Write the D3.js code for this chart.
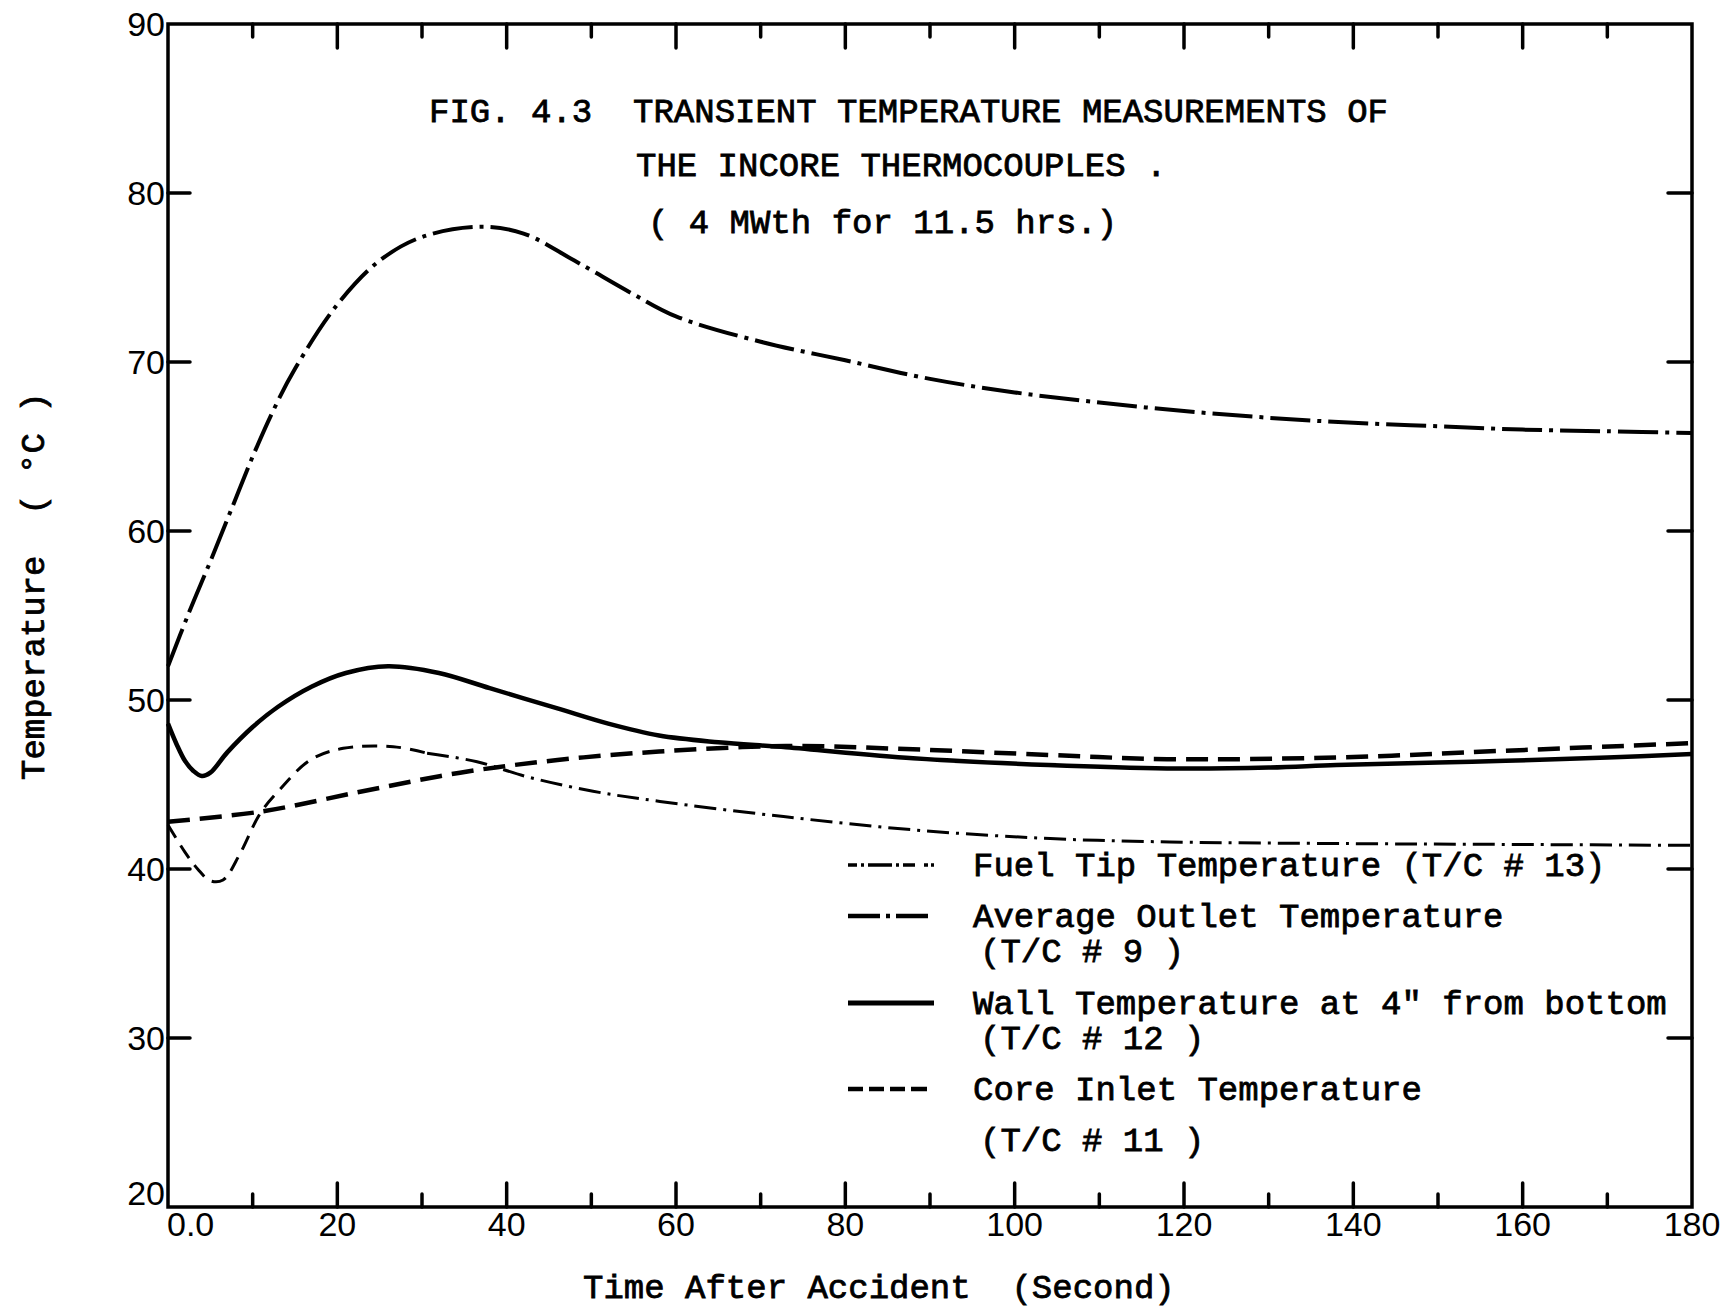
<!DOCTYPE html>
<meta charset="utf-8">
<style>

html, body {
  margin: 0;
  background: #fff;
}

svg {
  display: block;
}

.axis-frame {
  fill: none;
  stroke: #000;
  stroke-width: 3.5px;
}

.tick-mark {
  stroke: #000;
  stroke-width: 3.5px;
  stroke-linecap: round;
}

.tick-label {
  font: 34px "Liberation Sans", sans-serif;
  fill: #000;
}

.mono {
  font-family: "Liberation Mono", "DejaVu Sans Mono", monospace;
  font-size: 34px;
  fill: #000;
  stroke: #000;
  stroke-width: 0.8px;
}

.curve {
  fill: none;
  stroke: #000;
  stroke-linejoin: round;
}

</style>
<svg class="chart"></svg>
<script src="https://cdn.jsdelivr.net/npm/d3@7"></script>
<script>

// values (time in s, temperature in deg C)
var outletTime = [0, 2.5, 5, 7.5, 10, 12.5, 15, 20, 25, 30, 37, 42, 48, 55, 60, 70, 80, 90, 100, 110, 120, 130, 140, 150, 160, 170, 180];
var outletTemp = [52, 55.2, 58.2, 61.3, 64.4, 67.2, 69.6, 73.4, 76.0, 77.4, 78.0, 77.6, 76.0, 74.0, 72.7, 71.2, 70.1, 69.0, 68.2, 67.6, 67.1, 66.7, 66.4, 66.2, 66.0, 65.9, 65.8];

var wallTime = [0, 1, 2, 3, 4, 5, 7, 10, 13, 17, 21, 26, 32, 38, 46, 52, 58, 65, 73, 88, 104, 118, 130, 138, 150, 158, 170, 180];
var wallTemp = [48.6, 47.4, 46.4, 45.8, 45.5, 45.7, 46.9, 48.4, 49.6, 50.8, 51.6, 52.0, 51.6, 50.7, 49.5, 48.6, 47.9, 47.5, 47.2, 46.55, 46.15, 45.95, 46.0, 46.15, 46.3, 46.4, 46.6, 46.8];

var inletTime = [0, 11, 23, 34.5, 46, 58, 73, 88, 104, 118, 138, 158, 180];
var inletTemp = [42.8, 43.4, 44.6, 45.7, 46.45, 46.95, 47.28, 47.08, 46.75, 46.5, 46.6, 47.0, 47.45];

var fuelTime = [0, 2, 3.5, 5, 6.5, 8.5, 10.9, 13.2, 16.8, 20.7, 26.6, 30.6, 36.5, 42.4, 50.2, 58.1, 72.7, 88.4, 104.2, 118.3, 140, 160, 180];
var fuelTemp = [42.6, 41.0, 40.0, 39.3, 39.35, 40.9, 43.3, 44.7, 46.45, 47.14, 47.24, 46.85, 46.35, 45.46, 44.6, 44.0, 43.1, 42.3, 41.8, 41.6, 41.5, 41.45, 41.4];

var xMajorTicks = [0, 20, 40, 60, 80, 100, 120, 140, 160, 180];
var xMinorTicks = [10, 30, 50, 70, 90, 110, 130, 150, 170];
var yTicks = [20, 30, 40, 50, 60, 70, 80, 90];

var titleLines = [
  'FIG. 4.3  TRANSIENT TEMPERATURE MEASUREMENTS OF',
  'THE INCORE THERMOCOUPLES .',
  '( 4 MWth for 11.5 hrs.)'
];

var legendRows = [
  {key: 'fuel', lines: ['Fuel Tip Temperature (T/C # 13)']},
  {key: 'outlet', lines: ['Average Outlet Temperature', '(T/C # 9 )']},
  {key: 'wall', lines: ['Wall Temperature at 4" from bottom', '(T/C # 12 )']},
  {key: 'inlet', lines: ['Core Inlet Temperature', '(T/C # 11 )']}
];

var width = 1734;
var height = 1311;
var margin = {left: 168, right: 42, top: 24, bottom: 104};

var styles = {
  outlet: {width: 4, dash: '40,7,4,7'},
  wall: {width: 4.5, dash: null},
  inlet: {width: 4.5, dash: '22,10'},
  fuelEarly: {width: 3, dash: '15,9'},
  fuel: {width: 3, dash: '22,7,3,7'}
};

var svg = d3.select('svg.chart')
  .attr('width', width)
  .attr('height', height);

var x = d3.scaleLinear()
  .domain([0, 180])
  .range([margin.left, width - margin.right]);

var y = d3.scaleLinear()
  .domain([20, 90])
  .range([height - margin.bottom, margin.top]);

function zip (ts, vs) {
  return ts.map(function (t, i) { return {t: t, v: vs[i]}; });
}

var line = d3.line()
  .x(function (d) { return x(d.t); })
  .y(function (d) { return y(d.v); })
  .curve(d3.curveCatmullRom.alpha(0.5));

// frame
svg.append('rect')
  .attr('class', 'axis-frame')
  .attr('x', x(0))
  .attr('y', y(90))
  .attr('width', x(180) - x(0))
  .attr('height', y(20) - y(90));

// x ticks, pointing inward on both the top and bottom edges
var ticks = svg.append('g');
var xTickData = xMajorTicks.filter(function (d) { return d > 0 && d < 180; }).map(function (d) { return {t: d, len: 24}; })
  .concat(xMinorTicks.map(function (d) { return {t: d, len: 13}; }));

ticks.selectAll('line.xb')
  .data(xTickData)
  .enter().append('line')
  .attr('class', 'tick-mark')
  .attr('x1', function (d) { return x(d.t); })
  .attr('x2', function (d) { return x(d.t); })
  .attr('y1', y(20))
  .attr('y2', function (d) { return y(20) - d.len; });

ticks.selectAll('line.xt')
  .data(xTickData)
  .enter().append('line')
  .attr('class', 'tick-mark')
  .attr('x1', function (d) { return x(d.t); })
  .attr('x2', function (d) { return x(d.t); })
  .attr('y1', y(90))
  .attr('y2', function (d) { return y(90) + d.len; });

var yInner = yTicks.filter(function (d) { return d > 20 && d < 90; });

ticks.selectAll('line.yl')
  .data(yInner)
  .enter().append('line')
  .attr('class', 'tick-mark')
  .attr('x1', x(0))
  .attr('x2', x(0) + 22)
  .attr('y1', function (d) { return y(d); })
  .attr('y2', function (d) { return y(d); });

ticks.selectAll('line.yr')
  .data(yInner)
  .enter().append('line')
  .attr('class', 'tick-mark')
  .attr('x1', x(180))
  .attr('x2', x(180) - 24)
  .attr('y1', function (d) { return y(d); })
  .attr('y2', function (d) { return y(d); });

// tick labels ("20" sits a little high so it clears the "0.0" below it)
svg.append('g').selectAll('text')
  .data(yTicks)
  .enter().append('text')
  .attr('class', 'tick-label')
  .attr('x', x(0) - 3)
  .attr('y', function (d) { return y(d) - (d === 20 ? 14 : 0); })
  .attr('dy', '0.36em')
  .attr('text-anchor', 'end')
  .text(function (d) { return d; });

svg.append('g').selectAll('text')
  .data(xMajorTicks)
  .enter().append('text')
  .attr('class', 'tick-label')
  .attr('x', function (d) { return d === 0 ? x(0) - 1 : x(d); })
  .attr('y', y(20) + 29)
  .attr('text-anchor', function (d) { return d === 0 ? 'start' : 'middle'; })
  .text(function (d) { return d === 0 ? '0.0' : d; });

// axis titles
svg.append('text')
  .attr('class', 'mono')
  .attr('x', 583)
  .attr('y', 1298)
  .attr('xml:space', 'preserve')
  .text('Time After Accident  (Second)');

svg.append('text')
  .attr('class', 'mono')
  .attr('transform', 'translate(44,780) rotate(-90)')
  .attr('xml:space', 'preserve')
  .text('Temperature  ( \u00b0C )');

// figure title inside the plot
svg.append('g').selectAll('text')
  .data(titleLines)
  .enter().append('text')
  .attr('class', 'mono')
  .attr('xml:space', 'preserve')
  .attr('x', function (d, i) { return i === 0 ? 429 : (i === 1 ? 636 : 648); })
  .attr('y', function (d, i) { return [122, 176, 233][i]; })
  .text(function (d) { return d; });

// curves
var curves = svg.append('g');

curves.append('path')
  .datum(zip(outletTime, outletTemp))
  .attr('class', 'curve')
  .attr('stroke-width', styles.outlet.width)
  .attr('stroke-dasharray', styles.outlet.dash)
  .attr('d', line);

curves.append('path')
  .datum(zip(wallTime, wallTemp))
  .attr('class', 'curve')
  .attr('stroke-width', styles.wall.width)
  .attr('d', line);

curves.append('path')
  .datum(zip(inletTime, inletTemp))
  .attr('class', 'curve')
  .attr('stroke-width', styles.inlet.width)
  .attr('stroke-dasharray', styles.inlet.dash)
  .attr('d', line);

// fuel tip trace is plain dashed up to the hump, dash-dot afterwards
var fuelPts = zip(fuelTime, fuelTemp);
curves.append('path')
  .datum(fuelPts.filter(function (d) { return d.t <= 30.6; }))
  .attr('class', 'curve')
  .attr('stroke-width', styles.fuelEarly.width)
  .attr('stroke-dasharray', styles.fuelEarly.dash)
  .attr('d', line);

curves.append('path')
  .datum(fuelPts.filter(function (d) { return d.t >= 30.6; }))
  .attr('class', 'curve')
  .attr('stroke-width', styles.fuel.width)
  .attr('stroke-dasharray', styles.fuel.dash)
  .attr('d', line);

// legend
var legendTop = [865, 916, 1003, 1089];
var legendSample = {
  fuel: {dash: '9,4,3,4,24,4,3,4,12', width: 3.5},
  outlet: {dash: '32,6,4,6,32', width: 4.5},
  wall: {dash: null, width: 5},
  inlet: {dash: '15,6,15,6,15,6,16', width: 4.5}
};

var legend = svg.append('g');
legendRows.forEach(function (row, i) {
  var yy = legendTop[i];
  legend.append('line')
    .attr('x1', 848)
    .attr('x2', 934)
    .attr('y1', yy)
    .attr('y2', yy)
    .attr('stroke', '#000')
    .attr('stroke-width', legendSample[row.key].width)
    .attr('stroke-dasharray', legendSample[row.key].dash);

  row.lines.forEach(function (txt, j) {
    legend.append('text')
      .attr('class', 'mono')
      .attr('xml:space', 'preserve')
      .attr('x', j === 0 ? 973 : 980)
      .attr('y', yy + (j === 0 ? 0 : (row.key === 'inlet' ? 51 : 35)))
      .attr('dy', '0.32em')
      .text(txt);
  });
});

</script>
